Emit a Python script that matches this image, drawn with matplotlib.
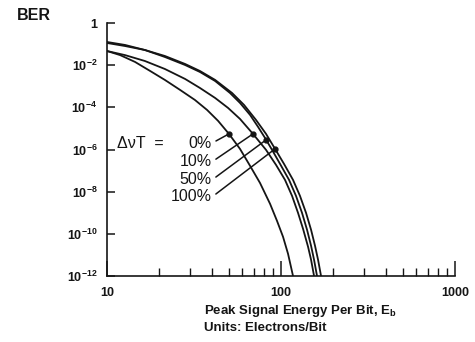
import matplotlib
matplotlib.use('Agg')
import matplotlib.pyplot as plt
from matplotlib.ticker import FixedLocator, NullLocator

plt.rcParams['font.family'] = ['Liberation Sans', 'DejaVu Sans']
plt.rcParams['font.weight'] = 'bold'
plt.rcParams['mathtext.fontset'] = 'custom'
plt.rcParams['mathtext.rm'] = 'Liberation Sans:bold'
plt.rcParams['mathtext.it'] = 'Liberation Sans:bold'
plt.rcParams['mathtext.bf'] = 'Liberation Sans:bold'
plt.rcParams['mathtext.default'] = 'rm'

# curves: peak signal energy per bit (electrons) vs BER
eb_0 = [10.0, 11.9, 14.5, 17.7, 21.5, 26.3, 32.0, 37.6, 43.5, 50.2, 58.1, 66.4,
        75.7, 86.5, 94.8, 102.7, 109.7, 117.2]
ber_0 = [4.7e-2, 3.0e-2, 1.42e-2, 5.3e-3, 2.0e-3, 6.7e-4, 2.24e-4, 7.5e-5, 2.27e-5,
         5.5e-6, 1.07e-6, 1.67e-7, 2.6e-8, 2.64e-9, 4.13e-10, 7.2e-11, 1.13e-11, 1e-12]

eb_10 = [10.0, 12.7, 16.5, 21.5, 28.1, 34.2, 41.8, 49.6, 58.1, 69.0, 82.0, 93.6,
         105.4, 115.7, 125.2, 133.8, 143.0, 148.8, 154.8]
ber_10 = [4.7e-2, 3.0e-2, 1.58e-2, 6.6e-3, 2.22e-3, 8.3e-4, 2.79e-4, 9.4e-5, 2.82e-5,
          5.5e-6, 9.6e-7, 1.86e-7, 3.62e-8, 6.3e-9, 9.9e-10, 1.73e-10, 2.42e-11,
          5.9e-12, 1e-12]

eb_50 = [10.0, 12.7, 16.5, 21.5, 28.1, 34.2, 41.8, 50.9, 58.1, 66.4, 73.8, 80.9,
         88.8, 98.7, 111.2, 121.9, 132.0, 141.1, 148.8, 154.8, 161.0]
ber_50 = [0.113, 0.081, 0.0525, 0.0245, 0.0102, 4.76e-3, 1.78e-3, 4.8e-4, 1.62e-4,
          4.36e-5, 1.18e-5, 3.55e-6, 9.6e-7, 2.08e-7, 3.62e-8, 6.3e-9, 9.9e-10,
          1.55e-10, 2.7e-11, 5.9e-12, 1e-12]

eb_100 = [10.0, 12.7, 16.5, 21.5, 28.1, 34.2, 41.8, 52.3, 61.3, 71.8, 82.0, 92.4,
          104.0, 117.2, 128.5, 139.2, 148.8, 156.8, 163.2, 169.8]
ber_100 = [0.126, 0.091, 0.0525, 0.0273, 0.0114, 5.3e-3, 2.0e-3, 4.8e-4, 1.3e-4,
           2.53e-5, 5.5e-6, 1.07e-6, 2.08e-7, 3.62e-8, 6.3e-9, 9.9e-10, 1.55e-10,
           2.7e-11, 5.9e-12, 1e-12]

labels = ['0%', '10%', '50%', '100%']
dot_eb = [50.2, 69.0, 82.0, 92.4]
dot_ber = [5.5e-6, 5.5e-6, 2.85e-6, 1.07e-6]

y_ticks = [1, 1e-2, 1e-4, 1e-6, 1e-8, 1e-10, 1e-12]
y_ticklabels = ['1', '$10^{-2}$', '$10^{-4}$', '$10^{-6}$', '$10^{-8}$', '$10^{-10}$', '$10^{-12}$']
x_ticks = [10, 100, 1000]
x_ticklabels = ['10', '100', '1000']
x_minor = [20, 30, 40, 50, 60, 70, 80, 90, 200, 300, 400, 500, 600, 700, 800, 900]

ink = '#151515'

fig = plt.figure(figsize=(4.75, 3.42), dpi=100)
ax = fig.add_axes([0.2253, 0.193, 0.7327, 0.7397])

for eb, ber in [(eb_0, ber_0), (eb_10, ber_10), (eb_50, ber_50), (eb_100, ber_100)]:
    ax.plot(eb, ber, color=ink, lw=1.3, solid_joinstyle='round')
ax.plot(dot_eb, dot_ber, 'o', ms=3.5, color=ink)

ax.set_xscale('log')
ax.set_yscale('log')
ax.set_xlim(10, 1000)
ax.set_ylim(1e-12, 1)

for s in ['top', 'right']:
    ax.spines[s].set_visible(False)
for s in ['left', 'bottom']:
    ax.spines[s].set_linewidth(1.2)
    ax.spines[s].set_color(ink)

ax.yaxis.set_major_locator(FixedLocator(y_ticks))
ax.set_yticklabels(y_ticklabels)
ax.yaxis.set_minor_locator(NullLocator())
ax.xaxis.set_major_locator(FixedLocator(x_ticks))
ax.set_xticklabels(x_ticklabels)
ax.xaxis.set_minor_locator(FixedLocator(x_minor))
ax.tick_params(axis='y', which='major', direction='in', length=6, width=1.1,
               pad=7, labelsize=9, colors=ink)
ax.tick_params(axis='x', which='major', direction='in', length=11, width=1.1,
               pad=8, labelsize=9, colors=ink)
ax.tick_params(axis='x', which='minor', direction='in', length=6, width=1.0, colors=ink)

# delta-nu-T annotations with leader lines to the dots
ax.text(11.4, 1.9e-6, '\u0394\u03bdT  =', fontsize=11.5, fontweight='normal',
        ha='left', va='center', color=ink)
text_pos = [(40.1, 2.0e-6), (40.1, 2.6e-7), (40.1, 3.6e-8), (40.1, 5.6e-9)]
for lab, (tx, ty), dx, dy in zip(labels, text_pos, dot_eb, dot_ber):
    ax.annotate(lab, xy=(dx, dy), xytext=(tx, ty), textcoords='data',
                ha='right', va='center', fontsize=11.5, fontweight='normal', color=ink,
                arrowprops=dict(arrowstyle='-', color=ink, lw=1.1,
                                shrinkA=1, shrinkB=0, relpos=(1, 0.5)))

fig.text(0.036, 0.956, 'BER', fontsize=11.5, ha='left', va='center', color=ink)
fig.text(0.43, 0.091, 'Peak Signal Energy Per Bit, E$_\\mathregular{b}$',
         fontsize=9.5, ha='left', va='center', color=ink)
fig.text(0.43, 0.040, 'Units: Electrons/Bit', fontsize=9.5, ha='left',
         va='center', color=ink)

fig.savefig('out.png', dpi=100, facecolor='white')
plt.close(fig)
